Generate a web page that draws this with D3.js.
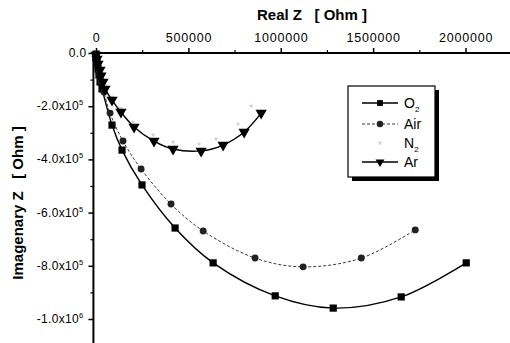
<!DOCTYPE html>
<meta charset="utf-8">
<style>
  body { margin: 0; background: #fff; }
  text { font-family: "Liberation Sans", Arial, sans-serif; fill: #000; }
</style>
<svg width="510" height="343"></svg>
<script src="https://d3js.org/d3.v7.min.js"></script>
<script>
  // data, [real Z, imaginary Z] in Ohm
  var o2 = [[0, -4000], [0, -19000], [5400, -38000], [10800, -60000], [16000, -83000],
    [22000, -109000], [32500, -135000], [86700, -271000], [141000, -365000],
    [249000, -496000], [428000, -658000], [634000, -789000], [970000, -913000],
    [1284000, -959000], [1652000, -917000], [2004000, -789000]]
  var air = [[0, -7500], [5400, -26000], [10800, -49000], [16000, -75000], [27000, -105000],
    [43000, -147000], [76000, -226000], [146000, -331000], [244000, -436000],
    [406000, -568000], [580000, -669000], [861000, -771000], [1121000, -804000],
    [1436000, -771000], [1728000, -665000]]
  var n2 = [[0, -4000], [10800, -34000], [27000, -71000], [49000, -120000], [86700, -165000],
    [135000, -207000], [200000, -259000], [309000, -308000], [417000, -335000],
    [558000, -342000], [650000, -323000], [769000, -267000], [840000, -199000]]
  var ar = [[0, -7500], [5400, -22500], [10800, -41000], [21700, -64000], [27000, -86000],
    [38000, -109000], [49000, -135000], [86700, -177000], [135000, -222000],
    [206000, -278000], [314000, -331000], [417000, -361000], [569000, -368000],
    [688000, -346000], [802000, -297000], [894000, -226000]]

  var xTicks = [0, 500000, 1000000, 1500000, 2000000]
  var xMinor = [250000, 750000, 1250000, 1750000]
  var yTicks = [0, -200000, -400000, -600000, -800000, -1000000]
  var yMinor = [-100000, -300000, -500000, -700000, -900000, -1100000]
  var yLabels = [['0.0', ''], ['-2.0x10', '5'], ['-4.0x10', '5'], ['-6.0x10', '5'], ['-8.0x10', '5'], ['-1.0x10', '6']]

  var svg = d3.select('svg')

  var x = d3.scaleLinear().domain([0, 2000000]).range([96, 465.5])
  var y = d3.scaleLinear().domain([0, -1000000]).range([53, 319])

  var x0 = x(-14000)
  var y0 = y(0)

  // axes
  var xAxis = svg.append('g').attr('transform', 'translate(0,' + y0 + ')')
    .call(d3.axisTop(x).tickValues(xTicks).tickSize(5).tickPadding(6).tickFormat(d3.format('d')))
  xAxis.select('.domain').remove()
  xAxis.selectAll('line').attr('stroke-width', 1.5)
  xAxis.selectAll('text').attr('font-size', 12.5).attr('letter-spacing', 0.8)
  svg.append('g').attr('transform', 'translate(0,' + y0 + ')')
    .call(d3.axisTop(x).tickValues(xMinor).tickSize(3).tickFormat(''))
    .call(g => g.select('.domain').remove())
    .selectAll('line').attr('stroke-width', 1.2)

  var yAxis = svg.append('g').attr('transform', 'translate(' + x0 + ',0)')
    .call(d3.axisLeft(y).tickValues(yTicks).tickSize(5).tickPadding(5).tickFormat(''))
  yAxis.select('.domain').remove()
  yAxis.selectAll('line').attr('stroke-width', 1.5)
  svg.append('g').attr('transform', 'translate(' + x0 + ',0)')
    .call(d3.axisLeft(y).tickValues(yMinor).tickSize(3).tickFormat(''))
    .call(g => g.select('.domain').remove())
    .selectAll('line').attr('stroke-width', 1.2)

  var yText = svg.append('g').selectAll('text')
    .data(yTicks)
    .enter().append('text')
    .attr('text-anchor', 'end')
    .attr('font-size', 12)
    .attr('letter-spacing', 0.3)
    .attr('x', (d, i) => i === 0 ? x0 - 7 : x0 - 10)
    .attr('y', d => y(d) + 4)
  yText.append('tspan').text((d, i) => yLabels[i][0])
  yText.append('tspan').attr('font-size', 7.5).attr('dy', -5).text((d, i) => yLabels[i][1])

  svg.append('line').attr('x1', x0).attr('x2', 512).attr('y1', y0).attr('y2', y0)
    .attr('stroke', '#000').attr('stroke-width', 2)
  svg.append('line').attr('x1', x0).attr('x2', x0).attr('y1', y0 - 1).attr('y2', 345)
    .attr('stroke', '#000').attr('stroke-width', 2)

  // titles
  svg.append('text').attr('x', 257).attr('y', 20).attr('font-size', 15)
    .attr('font-weight', 'bold').attr('xml:space', 'preserve').text('Real Z   [ Ohm ]')
  svg.append('text').attr('transform', 'translate(23,203) rotate(-90)')
    .attr('text-anchor', 'middle').attr('font-size', 15).attr('font-weight', 'bold')
    .attr('xml:space', 'preserve').text('Imagenary Z   [ Ohm ]')

  // series
  var line = d3.line().x(d => x(d[0])).y(d => y(d[1])).curve(d3.curveCatmullRom)
  var sq = d3.symbol().type(d3.symbolSquare).size(52)
  var circ = d3.symbol().type(d3.symbolCircle).size(38)
  var tri = d3.symbol().type(d3.symbolTriangle).size(55)
  var star = d3.symbol().type(d3.symbolStar).size(8)

  var series = [
    { name: 'O2', data: o2, color: '#000', width: 1.4, dash: null, sym: sq, rot: 0 },
    { name: 'Air', data: air, color: '#222', width: 0.9, dash: '3,2', sym: circ, rot: 0 },
    { name: 'N2', data: n2, color: '#d0d0d0', width: 0, dash: null, sym: star, rot: 0 },
    { name: 'Ar', data: ar, color: '#000', width: 1.4, dash: null, sym: tri, rot: 180 }
  ]

  series.forEach(s => {
    if (s.width > 0) {
      svg.append('path').datum(s.data).attr('d', line)
        .attr('fill', 'none').attr('stroke', s.color)
        .attr('stroke-width', s.width).attr('stroke-dasharray', s.dash)
    }
    svg.append('g').selectAll('path')
      .data(s.data)
      .enter().append('path')
      .attr('d', s.sym)
      .attr('fill', s.color)
      .attr('transform', d => 'translate(' + x(d[0]) + ',' + y(d[1]) + ') rotate(' + s.rot + ')')
  })

  // legend
  var legend = svg.append('g')
  legend.append('rect').attr('x', 352).attr('y', 90).attr('width', 87).attr('height', 91).attr('fill', '#000')
  legend.append('rect').attr('x', 348).attr('y', 86).attr('width', 87).attr('height', 91)
    .attr('fill', '#fff').attr('stroke', '#000').attr('stroke-width', 1.2)
  var rows = legend.selectAll('g.row')
    .data(series)
    .enter().append('g')
    .attr('transform', (d, i) => 'translate(0,' + [103, 124, 143, 162][i] + ')')
  rows.filter(d => d.width > 0).append('line')
    .attr('x1', 362).attr('x2', 398)
    .attr('stroke', d => d.color).attr('stroke-width', d => d.width)
    .attr('stroke-dasharray', d => d.dash)
  rows.append('path')
    .attr('d', d => d.sym.size(d.name === 'N2' ? 8 : 34)())
    .attr('fill', d => d.color)
    .attr('transform', d => 'translate(380,0) rotate(' + d.rot + ')')
  var lt = rows.append('text').attr('x', 404).attr('y', 5).attr('font-size', 14)
  lt.append('tspan').text(d => d.name === 'Air' || d.name === 'Ar' ? d.name : d.name[0])
  lt.append('tspan').attr('font-size', 8).attr('dy', 4).text(d => d.name === 'O2' || d.name === 'N2' ? '2' : '')
</script>
